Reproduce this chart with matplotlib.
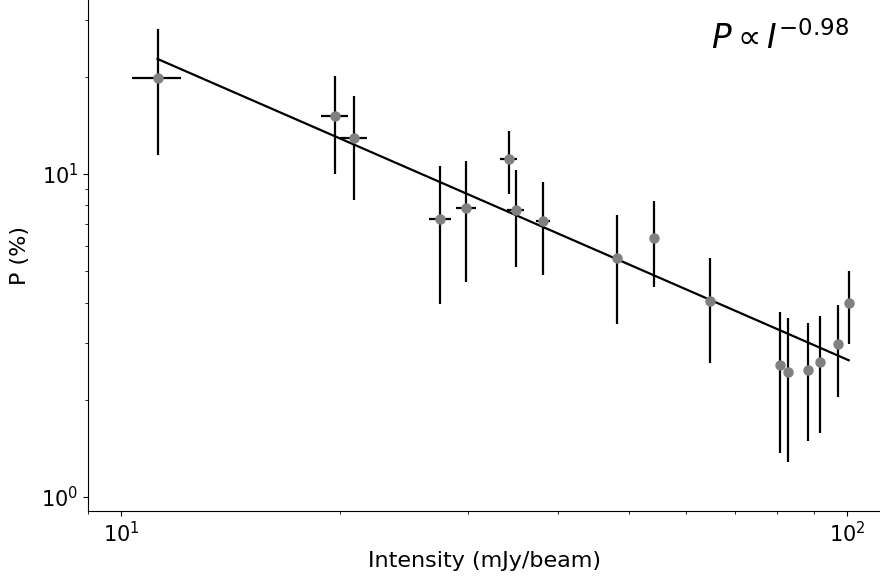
import matplotlib
matplotlib.use("Agg")
import matplotlib.pyplot as plt
import numpy

# binned intensity (mJy/beam) and polarisation fraction (%), with asymmetric errors
intensity = numpy.array([11.22, 19.72, 20.92, 27.50, 29.87, 34.20, 34.93, 38.10, 48.17,
                         54.23, 64.70, 80.93, 83.01, 88.28, 91.70, 97.18, 100.5])
intensity_low = numpy.array([10.36, 18.86, 20.03, 26.56, 28.94, 33.27, 34.02, 37.29, 48.17,
                             54.23, 64.70, 80.93, 83.01, 88.28, 91.70, 97.18, 100.5])
intensity_high = numpy.array([12.08, 20.55, 21.80, 28.46, 30.81, 35.08, 35.83, 38.98, 48.17,
                              54.23, 64.70, 80.93, 83.01, 88.28, 91.70, 97.18, 100.5])
pol_frac = numpy.array([19.83, 15.15, 12.93, 7.27, 7.85, 11.13, 7.74, 7.17, 5.48,
                        6.36, 4.05, 2.56, 2.44, 2.48, 2.62, 2.98, 4.00])
pol_low = numpy.array([11.42, 10.04, 8.31, 3.95, 4.62, 8.65, 5.15, 4.87, 3.44,
                       4.46, 2.60, 1.37, 1.28, 1.49, 1.58, 2.04, 2.98])
pol_high = numpy.array([28.18, 20.16, 17.47, 10.56, 11.00, 13.55, 10.26, 9.47, 7.48,
                        8.27, 5.50, 3.74, 3.59, 3.46, 3.64, 3.92, 5.01])

# power-law fit P = A * I^index
FIT_AMP = 243.0
FIT_INDEX = -0.98

plt.rcParams["font.family"] = ["DejaVu Sans"]

figure = plt.figure(figsize=(8.8, 5.77), dpi=100)
axis = figure.add_axes([0.1, 0.1144, 0.9, 0.8856])

xerr = [intensity - intensity_low, intensity_high - intensity]
yerr = [pol_frac - pol_low, pol_high - pol_frac]
axis.errorbar(intensity, pol_frac, xerr=xerr, yerr=yerr, fmt="o", color="gray",
              markersize=6.5, ecolor="black", elinewidth=1.6, capsize=0, zorder=3)

fit_x = numpy.sort(intensity)
axis.plot(fit_x, FIT_AMP * fit_x ** FIT_INDEX, color="black", linewidth=1.6, zorder=2)

axis.set_xscale("log")
axis.set_yscale("log")
axis.set_xlim(9.0, 111)
axis.set_ylim(0.905, 34.6)

axis.spines["top"].set_visible(False)
axis.spines["right"].set_visible(False)
axis.tick_params(axis="both", which="major", labelsize=15)

axis.set_xlabel("Intensity (mJy/beam)", fontsize=16)
axis.set_ylabel("P (%)", fontsize=16, labelpad=8)

axis.text(0.874, 0.925, r"$P \propto I^{-0.98}$", transform=axis.transAxes,
          fontsize=23.5, ha="center", va="center")

plt.savefig("out.png", dpi=100)
plt.close()
